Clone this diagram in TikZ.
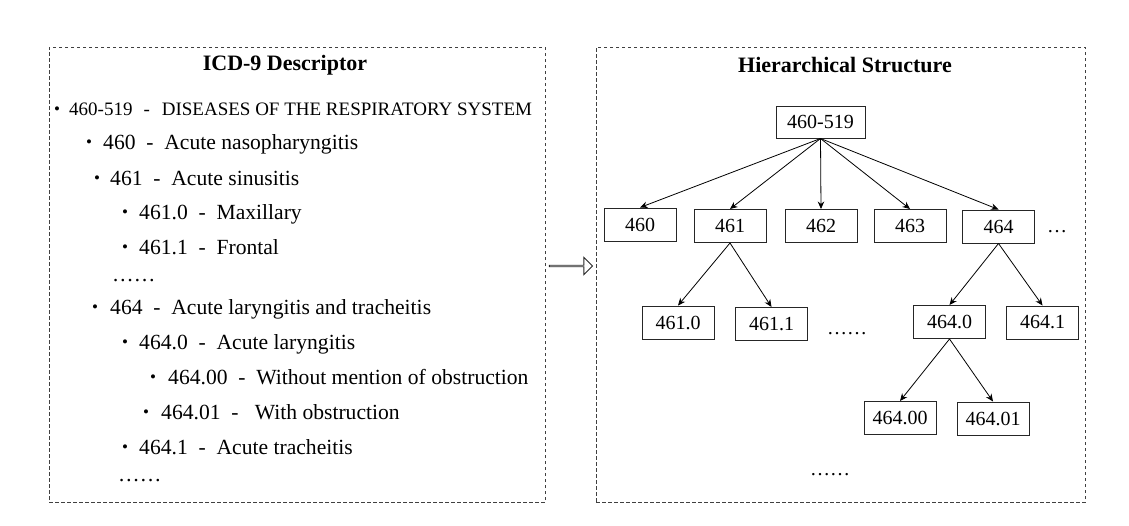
\documentclass[tikz,border=0pt]{standalone}
\usepackage{fontspec}
\setmainfont{Liberation Serif}
\usetikzlibrary{arrows.meta,shapes.arrows}
\begin{document}
\begin{tikzpicture}[x=1pt,y=-1pt,
  frame/.style={draw=black!75, line width=0.9pt, dash pattern=on 3.5pt off 2.5pt, inner sep=0pt},
  ttl/.style={font=\fontsize{22}{26}\selectfont\bfseries, inner sep=0pt},
  item/.style={anchor=base west, inner sep=0pt, font=\fontsize{21.6}{25}\selectfont},
  bul/.style={anchor=base, inner sep=0pt, font=\fontsize{17}{19}\selectfont},
  dotsn/.style={anchor=base, inner sep=0pt, font=\fontsize{20}{24}\selectfont},
  code/.style={draw=black!85, line width=1pt, minimum width=72pt, minimum height=33pt, inner sep=0pt, font=\fontsize{20}{24}\selectfont},
  link/.style={-{Stealth[length=7.5pt,width=6.5pt]}, line width=0.8pt}
]
\useasboundingbox (0,0) rectangle (1129,525);
% frames
\node[frame, minimum width=496pt, minimum height=455pt] (L) at (297,274.5) {};
\node[frame, minimum width=489pt, minimum height=455pt] (R) at (840.5,274.5) {};
\node[single arrow, draw=black!85, line width=0.9pt, minimum height=43pt, minimum width=17pt,
      single arrow head extend=4.5pt, inner sep=0pt] (arr) at (570.5,266) {};
% titles
\node[ttl] (tL) at (285,65) {ICD-9 Descriptor};
\node[ttl] (tR) at (845,65) {Hierarchical Structure};
% list
\node[bul] (b1) at (57,114) {•};
\node[item, font=\fontsize{19}{23}\selectfont] (l1) at (69,115.5) {460-519\hspace{11pt}-\hspace{12pt}DISEASES OF THE RESPIRATORY SYSTEM};
\node[bul] (b2) at (89,147) {•};
\node[item] (l2) at (103,149) {460\ \ -\ \ Acute nasopharyngitis};
\node[bul] (b3) at (97,183) {•};
\node[item] (l3) at (110,185) {461\ \ -\ \ Acute sinusitis};
\node[bul] (b4) at (125,217) {•};
\node[item] (l4) at (139,219) {461.0\ \ -\ \ Maxillary};
\node[bul] (b5) at (125,252) {•};
\node[item] (l5) at (139,254) {461.1\ \ -\ \ Frontal};
\node[item] (l6) at (112,281) {……};
\node[bul] (b7) at (95,312) {•};
\node[item] (l7) at (110,314) {464\ \ -\ \ Acute laryngitis and tracheitis};
\node[bul] (b8) at (125,347) {•};
\node[item] (l8) at (139,349) {464.0\ \ -\ \ Acute laryngitis};
\node[bul] (b9) at (153,382) {•};
\node[item] (l9) at (168,384) {464.00\ \ -\ \ Without mention of obstruction};
\node[bul] (b10) at (146,417) {•};
\node[item] (l10) at (161,419) {464.01\ \ -\ \ \ With obstruction};
\node[bul] (b11) at (125,452) {•};
\node[item] (l11) at (139,454) {464.1\ \ -\ \ Acute tracheitis};
\node[item] (l12) at (118,481) {……};
% tree
\node[code, minimum width=89pt, minimum height=32pt] (n0) at (820.5,122) {460-519};
\node[code] (n460) at (640,224.5) {460};
\node[code] (n461) at (730,226) {461};
\node[code] (n462) at (821,226) {462};
\node[code] (n463) at (910,226) {463};
\node[code] (n464) at (998.5,226.5) {464};
\node[dotsn] (d1) at (1057,232) {…};
\node[code] (n4610) at (678,322.5) {461.0};
\node[code] (n4611) at (771.5,324) {461.1};
\node[dotsn] (d2) at (847,334) {……};
\node[code] (n4640) at (949.5,322) {464.0};
\node[code] (n4641) at (1042.5,322.5) {464.1};
\node[code] (n46400) at (900,418) {464.00};
\node[code] (n46401) at (993,418.5) {464.01};
\node[dotsn] (d3) at (830,475) {……};
% links
\foreach \c in {n460,n461,n462,n463,n464} \draw[link] (n0.south) -- (\c.north);
\draw[link] (n461.south) -- (n4610.north);
\draw[link] (n461.south) -- (n4611.north);
\draw[link] (n464.south) -- (n4640.north);
\draw[link] (n464.south) -- (n4641.north);
\draw[link] (n4640.south) -- (n46400.north);
\draw[link] (n4640.south) -- (n46401.north);
\end{tikzpicture}
\end{document}
